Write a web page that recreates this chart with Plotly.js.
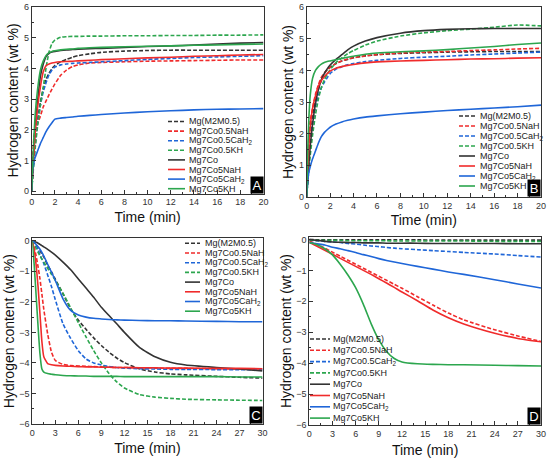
<!DOCTYPE html>
<html>
<head>
<meta charset="utf-8">
<script src="https://cdn.plot.ly/plotly-3.0.1.min.js"></script>
<style>html,body{margin:0;padding:0;background:#fff;}#chart{width:550px;height:458px;}</style>
</head>
<body>
<div id="chart"></div>
<script>
// ---------- DATA ----------
const seriesNames = ['Mg(M2M0.5)', 'Mg7Co0.5NaH', 'Mg7Co0.5CaH<sub>2</sub>', 'Mg7Co0.5KH',
                     'Mg7Co', 'Mg7Co5NaH', 'Mg7Co5CaH<sub>2</sub>', 'Mg7Co5KH'];
const panelLabels = ['A', 'B', 'C', 'D'];

// Panel A (absorption, 0-20 min)
const timeA = [0, 0.1, 0.2, 0.3, 0.5, 0.75, 1, 1.25, 1.5, 1.75, 2, 2.5, 3, 3.5, 4, 5, 6, 8, 10, 12, 14, 16, 18, 20];
const A_M2M    = [0,0.6,1.1,1.6,2.3,2.9,3.35,3.65,3.85,4.0,4.1,4.22,4.3,4.37,4.42,4.48,4.53,4.57,4.59,4.6,4.6,4.6,4.6,4.6];
const A_05NaH  = [0,1.2,1.8,2.0,2.2,2.45,2.75,2.95,3.15,3.33,3.5,3.78,3.95,4.06,4.12,4.18,4.2,4.22,4.24,4.25,4.26,4.27,4.28,4.28];
const A_05CaH2 = [0,0.6,1.1,1.5,2.2,2.8,3.25,3.55,3.8,3.95,4.05,4.12,4.15,4.17,4.18,4.2,4.22,4.26,4.3,4.33,4.36,4.38,4.4,4.42];
const A_05KH   = [0,0.5,1.0,1.4,2.1,2.8,3.4,4.05,4.55,4.82,4.93,5.02,5.04,5.05,5.05,5.06,5.06,5.07,5.07,5.08,5.08,5.09,5.09,5.1];
const A_Co     = [0,0.8,1.5,2.1,2.9,3.75,4.15,4.4,4.5,4.54,4.56,4.59,4.61,4.62,4.63,4.65,4.66,4.69,4.72,4.74,4.77,4.8,4.83,4.85];
const A_5NaH   = [0,0.7,1.3,1.9,2.7,3.4,3.9,4.1,4.15,4.18,4.2,4.22,4.23,4.24,4.25,4.27,4.29,4.32,4.35,4.37,4.4,4.42,4.44,4.46];
const A_5CaH2  = [0,0.75,0.95,1.1,1.3,1.55,1.75,1.95,2.1,2.23,2.35,2.38,2.4,2.42,2.44,2.47,2.5,2.55,2.59,2.62,2.65,2.67,2.68,2.69];
const A_5KH    = [0,1.0,1.8,2.5,3.3,3.95,4.25,4.43,4.52,4.56,4.58,4.61,4.63,4.64,4.66,4.68,4.69,4.71,4.73,4.74,4.76,4.77,4.79,4.8];

// Panel B (absorption, 0-20 min)
const timeB = [0, 0.1, 0.2, 0.3, 0.5, 0.75, 1, 1.25, 1.5, 1.75, 2, 2.5, 3, 3.5, 4, 5, 6, 8, 10, 12, 14, 16, 18, 20];
const B_M2M    = [0,0.7,1.3,1.8,2.5,3.05,3.4,3.7,3.9,4.02,4.1,4.22,4.3,4.35,4.4,4.46,4.5,4.54,4.56,4.58,4.59,4.6,4.6,4.6];
const B_05NaH  = [0,1.2,2.0,2.4,2.8,3.25,3.55,3.78,3.92,4.02,4.1,4.22,4.3,4.36,4.4,4.46,4.5,4.55,4.58,4.6,4.63,4.65,4.68,4.7];
const B_05CaH2 = [0,0.6,1.1,1.55,2.3,2.85,3.2,3.45,3.62,3.77,3.9,4.04,4.12,4.18,4.22,4.28,4.32,4.38,4.42,4.45,4.49,4.52,4.55,4.58];
const B_05KH   = [0,0.5,0.9,1.3,1.95,2.6,3.1,3.45,3.7,3.88,4.02,4.25,4.4,4.53,4.63,4.8,4.93,5.09,5.19,5.26,5.31,5.37,5.44,5.41];
const B_Co     = [0,0.6,1.1,1.6,2.3,2.95,3.4,3.7,3.9,4.05,4.17,4.35,4.5,4.65,4.77,4.93,5.04,5.18,5.26,5.3,5.32,5.33,5.33,5.33];
const B_5NaH   = [0,1.0,1.7,2.2,2.8,3.2,3.5,3.68,3.8,3.9,3.98,4.07,4.12,4.16,4.19,4.24,4.27,4.3,4.32,4.34,4.36,4.37,4.39,4.4];
const B_5CaH2  = [0,0.55,0.8,0.95,1.2,1.45,1.7,1.9,2.03,2.12,2.2,2.3,2.37,2.42,2.46,2.52,2.56,2.63,2.68,2.73,2.77,2.81,2.85,2.9];
const B_5KH    = [0,1.6,2.6,3.2,3.75,4.0,4.12,4.2,4.25,4.28,4.3,4.34,4.38,4.42,4.45,4.51,4.55,4.59,4.62,4.66,4.71,4.76,4.82,4.87];

// Panel C (desorption, 0-30 min)
const timeC = [0, 0.25, 0.5, 0.75, 1, 1.25, 1.5, 2, 2.5, 3, 4, 5, 6, 7, 8, 9, 10, 11, 12, 14, 16, 18, 20, 24, 27, 30];
const C_M2M    = [0,-0.06,-0.13,-0.22,-0.32,-0.43,-0.53,-0.8,-1.02,-1.26,-1.74,-2.23,-2.6,-2.9,-3.18,-3.43,-3.65,-3.84,-3.99,-4.2,-4.3,-4.36,-4.39,-4.44,-4.47,-4.5];
const C_05NaH  = [0,-0.2,-0.5,-0.85,-1.25,-1.75,-2.25,-3.05,-3.65,-3.92,-4.05,-4.09,-4.1,-4.11,-4.12,-4.13,-4.14,-4.15,-4.15,-4.16,-4.17,-4.18,-4.18,-4.19,-4.2,-4.2];
const C_05CaH2 = [0,-0.05,-0.15,-0.3,-0.45,-0.6,-0.75,-1.12,-1.5,-1.93,-2.72,-3.2,-3.6,-3.87,-4.0,-4.07,-4.12,-4.15,-4.17,-4.19,-4.2,-4.21,-4.21,-4.22,-4.22,-4.22];
const C_05KH   = [0,-0.1,-0.25,-0.38,-0.5,-0.6,-0.7,-0.9,-1.1,-1.3,-1.72,-2.2,-2.68,-3.15,-3.6,-4.0,-4.35,-4.62,-4.82,-5.04,-5.12,-5.16,-5.19,-5.21,-5.22,-5.23];
const C_Co     = [0,-0.02,-0.05,-0.08,-0.12,-0.16,-0.2,-0.28,-0.37,-0.47,-0.7,-0.95,-1.25,-1.55,-1.85,-2.18,-2.45,-2.72,-3.0,-3.5,-3.8,-3.98,-4.07,-4.15,-4.2,-4.26];
const C_5NaH   = [0,-0.3,-0.8,-1.5,-2.4,-3.3,-3.8,-4.02,-4.06,-4.08,-4.1,-4.11,-4.12,-4.13,-4.13,-4.14,-4.14,-4.15,-4.15,-4.16,-4.16,-4.17,-4.17,-4.18,-4.18,-4.19];
const C_5CaH2  = [0,-0.05,-0.12,-0.2,-0.28,-0.38,-0.5,-0.77,-1.03,-1.3,-1.9,-2.28,-2.43,-2.5,-2.54,-2.56,-2.58,-2.59,-2.6,-2.61,-2.62,-2.62,-2.63,-2.64,-2.65,-2.65];
const C_5KH    = [0,-0.8,-1.8,-2.8,-3.7,-4.2,-4.3,-4.35,-4.37,-4.39,-4.41,-4.42,-4.43,-4.43,-4.44,-4.44,-4.44,-4.44,-4.45,-4.45,-4.45,-4.45,-4.45,-4.45,-4.46,-4.46];

// Panel D (desorption, 0-30 min)
const timeD = [0, 1, 2, 3, 4, 5, 6, 7, 8, 9, 10, 11, 12, 14, 16, 18, 20, 24, 27, 30];
const D_M2M    = [0,-0.01,-0.01,-0.01,-0.01,-0.01,-0.01,-0.01,-0.01,-0.01,-0.01,-0.01,-0.01,-0.01,-0.02,-0.02,-0.02,-0.02,-0.02,-0.02];
const D_05NaH  = [-0.05,-0.16,-0.28,-0.41,-0.54,-0.67,-0.8,-0.93,-1.06,-1.19,-1.32,-1.45,-1.58,-1.85,-2.12,-2.38,-2.6,-2.92,-3.12,-3.3];
const D_05CaH2 = [-0.02,-0.04,-0.06,-0.08,-0.1,-0.13,-0.15,-0.18,-0.21,-0.23,-0.26,-0.28,-0.3,-0.33,-0.36,-0.39,-0.42,-0.47,-0.52,-0.57];
const D_05KH   = [-0.02,-0.03,-0.03,-0.03,-0.03,-0.04,-0.04,-0.04,-0.04,-0.04,-0.04,-0.05,-0.05,-0.05,-0.05,-0.05,-0.05,-0.06,-0.06,-0.06];
const D_Co     = [0,-0.03,-0.06,-0.08,-0.09,-0.1,-0.1,-0.11,-0.11,-0.11,-0.12,-0.12,-0.12,-0.12,-0.13,-0.13,-0.13,-0.13,-0.14,-0.14];
const D_5NaH   = [-0.1,-0.22,-0.35,-0.48,-0.61,-0.74,-0.87,-1.0,-1.13,-1.27,-1.41,-1.55,-1.7,-1.98,-2.28,-2.53,-2.73,-3.03,-3.2,-3.31];
const D_5CaH2  = [-0.1,-0.14,-0.18,-0.25,-0.3,-0.36,-0.42,-0.49,-0.55,-0.62,-0.68,-0.73,-0.78,-0.87,-0.96,-1.05,-1.13,-1.3,-1.44,-1.57];
const D_5KH    = [-0.1,-0.17,-0.3,-0.5,-0.8,-1.15,-1.56,-2.1,-2.72,-3.25,-3.62,-3.85,-3.96,-4.02,-4.04,-4.05,-4.05,-4.07,-4.08,-4.09];

// ---------- STYLE ----------
const FONT = 'Liberation Sans, Arial, Helvetica, sans-serif';
const COL = {k: '#333333', r: '#f02b2b', b: '#1f66d8', g: '#2ca64e'};
const seriesColors = [COL.k, COL.r, COL.b, COL.g, COL.k, COL.r, COL.b, COL.g];
const seriesDash = ['4px,2px','4px,2px','4px,2px','4px,2px','solid','solid','solid','solid'];

const panels = [
  {t: timeA, ys: [A_M2M, A_05NaH, A_05CaH2, A_05KH, A_Co, A_5NaH, A_5CaH2, A_5KH], xa: 'x',  ya: 'y'},
  {t: timeB, ys: [B_M2M, B_05NaH, B_05CaH2, B_05KH, B_Co, B_5NaH, B_5CaH2, B_5KH], xa: 'x2', ya: 'y2'},
  {t: timeC, ys: [C_M2M, C_05NaH, C_05CaH2, C_05KH, C_Co, C_5NaH, C_5CaH2, C_5KH], xa: 'x3', ya: 'y3'},
  {t: timeD, ys: [D_M2M, D_05NaH, D_05CaH2, D_05KH, D_Co, D_5NaH, D_5CaH2, D_5KH], xa: 'x4', ya: 'y4'}
];

const traces = [];
panels.forEach(p => {
  p.ys.forEach((y, i) => {
    traces.push({
      type: 'scatter', mode: 'lines', x: p.t, y: y, name: seriesNames[i],
      xaxis: p.xa, yaxis: p.ya, showlegend: false,
      line: {color: seriesColors[i], width: 1.6, dash: seriesDash[i], shape: 'spline', smoothing: 0.5}
    });
  });
});

// pixel helpers for the 550x458 canvas
const W = 550, H = 458;
const px = v => v / W;
const py = v => 1 - v / H;

function axisBase() {
  return {
    showline: true, mirror: true, linecolor: '#333', linewidth: 1,
    ticks: 'inside', ticklen: 4, tickwidth: 1, tickcolor: '#333',
    showgrid: false, zeroline: false,
    tickfont: {family: FONT, size: 9, color: '#333'},
    minor: {ticks: 'inside', ticklen: 2, tickwidth: 1, tickcolor: '#333'}
  };
}
function xAxis(dom, range, dtick, anchor, standoff) {
  const a = axisBase();
  Object.assign(a, {domain: dom, range: range, dtick: dtick, anchor: anchor,
    title: {text: 'Time (min)', font: {family: FONT, size: 14, color: '#111'}, standoff: standoff}});
  a.minor.dtick = dtick / 2;
  return a;
}
function yAxis(dom, range, anchor) {
  const a = axisBase();
  Object.assign(a, {domain: dom, range: range, dtick: 1, anchor: anchor,
    title: {text: 'Hydrogen content (wt %)', font: {family: FONT, size: 14, color: '#111'}, standoff: 1}});
  a.minor.dtick = 0.5;
  return a;
}

const layout = {
  width: W, height: H, margin: {l: 0, r: 0, t: 0, b: 0},
  paper_bgcolor: '#fff', plot_bgcolor: '#fff',
  font: {family: FONT, color: '#222'},
  xaxis:  xAxis([px(31.7), px(263.5)], [0, 20], 2, 'y', 5),
  yaxis:  yAxis([py(193.5), py(7.3)], [-0.08, 6], 'x'),
  xaxis2: xAxis([px(306.7), px(541)], [0, 20], 2, 'y2', 5),
  yaxis2: yAxis([py(196.7), py(7.3)], [0, 6], 'x2'),
  xaxis3: xAxis([px(32.3), px(262.5)], [0, 30], 3, 'y3', 6),
  yaxis3: yAxis([py(424), py(238.3)], [-6, 0.08], 'x3'),
  xaxis4: xAxis([px(309.3), px(541)], [0, 30], 3, 'y4', -1),
  yaxis4: yAxis([py(425), py(237)], [-6, 0.08], 'x4'),
  shapes: [], annotations: []
};

// legend blocks (pixel positions of sample line / text / rows)
const legendPos = [
  {l0: 168, l1: 185, tx: 188, y0: 121.5, dy: 9.6},
  {l0: 459, l1: 475, tx: 479, y0: 116, dy: 10},
  {l0: 185, l1: 200, tx: 204, y0: 243.3, dy: 9.7},
  {l0: 310, l1: 330, tx: 332, y0: 339, dy: 11.3}
];
legendPos.forEach(L => {
  seriesNames.forEach((nm, i) => {
    const yy = L.y0 + i * L.dy;
    layout.shapes.push({type: 'line', xref: 'paper', yref: 'paper',
      x0: px(L.l0), x1: px(L.l1), y0: py(yy), y1: py(yy),
      line: {color: seriesColors[i], width: 1.6, dash: seriesDash[i]}});
    layout.annotations.push({xref: 'paper', yref: 'paper', x: px(L.tx), y: py(yy),
      xanchor: 'left', yanchor: 'middle', showarrow: false, text: nm, borderpad: 0,
      font: {family: FONT, size: 9, color: '#222'}});
  });
});

// panel letters
const axNames = ['', '2', '3', '4'];
panelLabels.forEach((lab, i) => {
  layout.annotations.push({xref: 'x' + axNames[i] + ' domain', yref: 'y' + axNames[i] + ' domain',
    x: 1, y: 0, xanchor: 'right', yanchor: 'bottom', showarrow: false, text: lab,
    width: 12, height: 16, bgcolor: '#000', borderpad: 0,
    font: {family: FONT, size: 13, color: '#fff'}});
});

Plotly.newPlot('chart', traces, layout, {staticPlot: true, displayModeBar: false});
</script>
</body>
</html>
